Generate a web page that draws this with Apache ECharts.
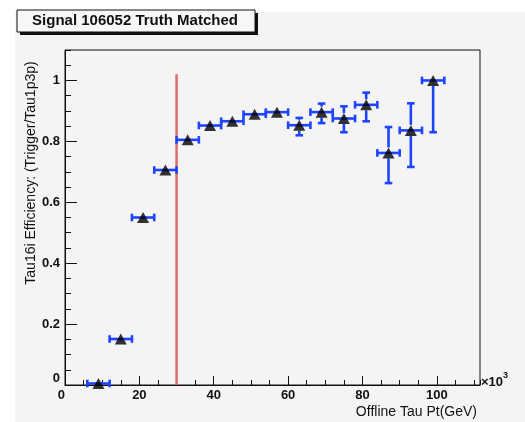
<!DOCTYPE html>
<html>
<head>
<meta charset="utf-8">
<script src="https://cdn.jsdelivr.net/npm/echarts@6/dist/echarts.min.js"></script>
<style>
  html, body { margin: 0; padding: 0; background: #ffffff; }
  #chart { width: 525px; height: 422px; }
</style>
</head>
<body>
<div id="chart"></div>
<script>
// Trigger efficiency vs. offline tau pT (pT in units of 10^3)
const ptCentres = [9, 15, 21, 27, 33, 39, 45, 51, 57, 63, 69, 75, 81, 87, 93, 99];
const binHalfWidth = 3;
const efficiency = [0.005, 0.151, 0.550, 0.706, 0.805, 0.852, 0.866, 0.889, 0.896, 0.853, 0.896, 0.875, 0.920, 0.762, 0.836, 1.000];
const errLow  = [0.005, 0.012, 0.014, 0.012, 0.010, 0.010, 0.010, 0.010, 0.012, 0.033, 0.036, 0.045, 0.054, 0.099, 0.120, 0.170];
const errHigh = [0.010, 0.012, 0.014, 0.012, 0.010, 0.010, 0.010, 0.010, 0.012, 0.024, 0.028, 0.040, 0.040, 0.085, 0.089, 0.000];

// Vertical threshold marker
const thresholdPt = 30;
const thresholdTop = 1.02;

// Axis tick labels
const xTickValues = [0, 20, 40, 60, 80, 100];
const xTickLabels = ['0', '20', '40', '60', '80', '100'];
const yTickValues = [0, 0.2, 0.4, 0.6, 0.8, 1.0];
const yTickLabels = ['0', '0.2', '0.4', '0.6', '0.8', '1'];

const FONT = "'Liberation Sans', Arial, Helvetica, sans-serif";
const BLUE = '#1f44ff';
const X_MAX = 111.6;
const Y_MAX = 1.1;

function labelFor(values, labels) {
  return function (v) {
    for (let i = 0; i < values.length; i++) {
      if (Math.abs(values[i] - v) < 1e-6) return labels[i];
    }
    return '';
  };
}

function seg(x1, y1, x2, y2) {
  return {
    type: 'line',
    shape: { x1: x1, y1: y1, x2: x2, y2: y2 },
    style: { stroke: BLUE, lineWidth: 2.6 }
  };
}

// Error bars with end caps; vertical bars drawn only outside the marker
function renderErrorBars(params, api) {
  const x = api.value(0), y = api.value(1), lo = api.value(2), hi = api.value(3);
  const c = api.coord([x, y]);
  const l = api.coord([x - binHalfWidth, y]);
  const r = api.coord([x + binHalfWidth, y]);
  const b = api.coord([x, y - lo]);
  const t = api.coord([x, y + hi]);
  const cap = 3.8, half = 5.5;
  const children = [
    seg(l[0], c[1], r[0], c[1]),
    seg(l[0], c[1] - cap, l[0], c[1] + cap),
    seg(r[0], c[1] - cap, r[0], c[1] + cap)
  ];
  if (t[1] < c[1] - half) {
    children.push(seg(c[0], c[1] - half, c[0], t[1]));
    children.push(seg(c[0] - cap, t[1], c[0] + cap, t[1]));
  }
  if (b[1] > c[1] + half) {
    children.push(seg(c[0], c[1] + half, c[0], b[1]));
    children.push(seg(c[0] - cap, b[1], c[0] + cap, b[1]));
  }
  return { type: 'group', children: children };
}

const points = efficiency.map((v, i) => [ptCentres[i], v]);
const errorData = efficiency.map((v, i) => [ptCentres[i], v, errLow[i], errHigh[i]]);

const chart = echarts.init(document.getElementById('chart'), null, { renderer: 'canvas' });

const labelStyle = { fontFamily: FONT, fontSize: 13, fontWeight: 'bold', color: '#111' };

chart.setOption({
  animation: false,
  backgroundColor: '#ffffff',
  grid: {
    left: 65, right: 45, top: 50, bottom: 37,
    show: true, borderColor: '#111', borderWidth: 1, backgroundColor: 'transparent'
  },
  xAxis: [
    {
      type: 'value', min: 0, max: X_MAX, interval: 20, position: 'bottom',
      axisLine: { show: true, lineStyle: { color: '#111', width: 1 } },
      axisTick: { show: true, inside: true, length: 9, lineStyle: { color: '#111', width: 1 } },
      axisLabel: Object.assign({
        formatter: labelFor(xTickValues, xTickLabels), margin: 4,
        showMaxLabel: false, alignMinLabel: 'right'
      }, labelStyle),
      splitLine: { show: false }
    },
    {
      type: 'value', min: 0, max: X_MAX, interval: 5, position: 'bottom',
      axisLine: { show: false },
      axisTick: { show: true, inside: true, length: 5, lineStyle: { color: '#111', width: 1 } },
      axisLabel: { show: false },
      splitLine: { show: false }
    }
  ],
  yAxis: [
    {
      type: 'value', min: 0, max: Y_MAX, interval: 0.2, position: 'left',
      axisLine: { show: true, lineStyle: { color: '#111', width: 1 } },
      axisTick: { show: true, inside: true, length: 12, lineStyle: { color: '#111', width: 1 } },
      axisLabel: Object.assign({
        formatter: labelFor(yTickValues, yTickLabels), margin: 5,
        showMaxLabel: false, verticalAlignMinLabel: 'bottom'
      }, labelStyle),
      splitLine: { show: false }
    },
    {
      type: 'value', min: 0, max: Y_MAX, interval: 0.05, position: 'left',
      axisLine: { show: false },
      axisTick: { show: true, inside: true, length: 6, lineStyle: { color: '#111', width: 1 } },
      axisLabel: { show: false },
      splitLine: { show: false }
    }
  ],
  graphic: [
    // canvas pad
    { type: 'rect', shape: { x: 15, y: 12, width: 510, height: 410 }, style: { fill: '#f4f4f4' }, z: -10, silent: true },
    // title box with drop shadow
    { type: 'rect', shape: { x: 20, y: 13, width: 238, height: 22 }, style: { fill: '#111' }, z: 10 },
    { type: 'rect', shape: { x: 17, y: 10, width: 238, height: 22 }, style: { fill: '#f7f7f7', stroke: '#111', lineWidth: 1 }, z: 11 },
    {
      type: 'text', x: 135, y: 21, z: 12,
      style: { text: 'Signal 106052 Truth Matched', font: "bold 15px " + FONT, fill: '#111', align: 'center', verticalAlign: 'middle' }
    },
    // axis titles
    {
      type: 'text', x: 31, y: 173, rotation: Math.PI / 2, z: 12,
      style: { text: 'Tau16i Efficiency: (Trigger/Tau1p3p)', font: "14px " + FONT, fill: '#111', align: 'center', verticalAlign: 'middle' }
    },
    {
      type: 'text', x: 477, y: 412, z: 12,
      style: { text: 'Offline Tau Pt(GeV)', font: "14px " + FONT, fill: '#111', align: 'right', verticalAlign: 'middle' }
    },
    // exponent of the x axis
    {
      type: 'text', x: 481, y: 380, z: 12,
      style: {
        text: '{a|\u00d710}{b|3}',
        align: 'left', verticalAlign: 'middle',
        rich: {
          a: { font: "bold 13px " + FONT, fill: '#111', verticalAlign: 'bottom' },
          b: { font: "bold 9px " + FONT, fill: '#111', verticalAlign: 'top', padding: [0, 0, 8, 0] }
        }
      }
    }
  ],
  series: [
    {
      type: 'line', xAxisIndex: 0, yAxisIndex: 0,
      data: [[thresholdPt, 0], [thresholdPt, thresholdTop]],
      symbol: 'none', lineStyle: { color: '#e06a6a', width: 2.5 }, z: 3, silent: true
    },
    {
      type: 'custom', xAxisIndex: 0, yAxisIndex: 0,
      renderItem: renderErrorBars, data: errorData,
      encode: { x: 0, y: 1 }, z: 4, silent: true
    },
    {
      type: 'scatter', xAxisIndex: 0, yAxisIndex: 0,
      data: points, symbol: 'triangle', symbolSize: [12, 11],
      itemStyle: { color: '#000' }, z: 5, silent: true
    }
  ]
});
</script>
</body>
</html>
